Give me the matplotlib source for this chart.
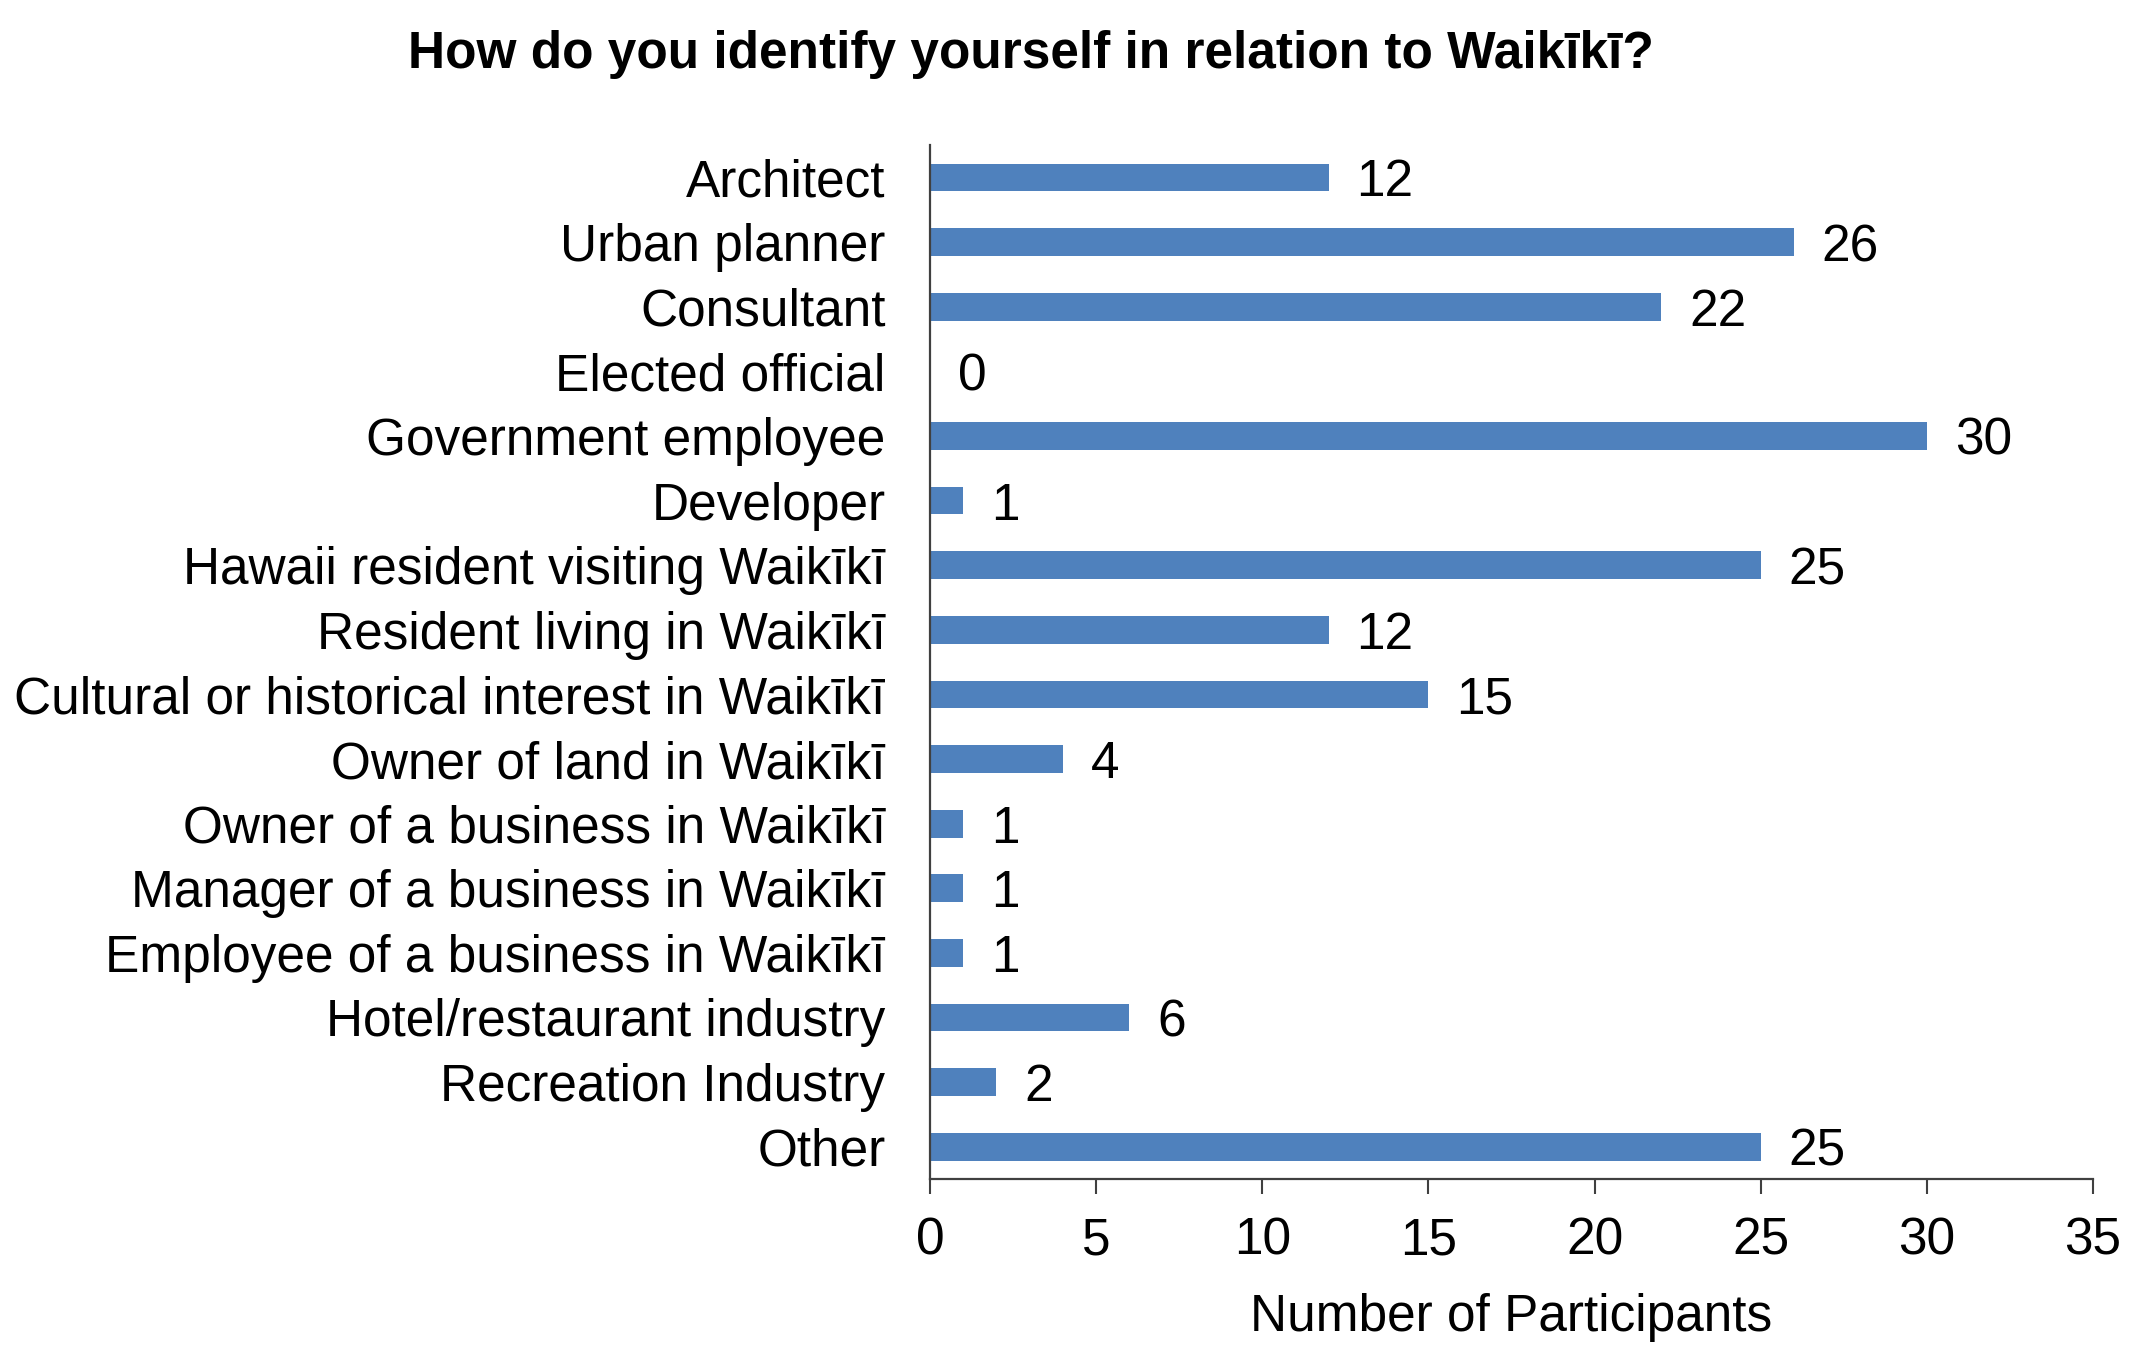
import matplotlib.pyplot as plt
import numpy as np

plt.rcParams['font.family'] = ['Liberation Sans', 'DejaVu Sans']

# DATA
categories = ['Architect', 'Urban planner', 'Consultant', 'Elected official',
              'Government employee', 'Developer',
              'Hawaii resident visiting Waikīkī', 'Resident living in Waikīkī',
              'Cultural or historical interest in Waikīkī',
              'Owner of land in Waikīkī', 'Owner of a business in Waikīkī',
              'Manager of a business in Waikīkī',
              'Employee of a business in Waikīkī', 'Hotel/restaurant industry',
              'Recreation Industry', 'Other']
counts = [12, 26, 22, 0, 30, 1, 25, 12, 15, 4, 1, 1, 1, 6, 2, 25]
xticks = [0, 5, 10, 15, 20, 25, 30, 35]

fig = plt.figure(figsize=(21.38, 13.64), dpi=100)
ax = fig.add_axes([0.435, 0.1356, 0.544, 0.758])

y = np.arange(len(categories))
bars = ax.barh(y, counts, height=0.43, color='#4F81BD')
labels = ax.bar_label(bars, labels=[str(c) for c in counts], padding=20,
                      fontsize=37)
for t in labels:
    # nudge value labels slightly down like the original
    t.set_y(t.get_position()[1])
    t.set_va('center_baseline')

ax.set_ylim(len(categories) - 0.5, -0.5)
ax.set_yticks(y)
ax.set_yticklabels(categories, fontsize=37)
ax.tick_params(axis='y', length=0, pad=32)

ax.set_xlim(0, 35)
ax.set_xticks(xticks)
ax.tick_params(axis='x', labelsize=37, length=11, width=1.5, pad=16,
               color='#404040', direction='out')
ax.set_xlabel('Number of Participants', fontsize=37, labelpad=20)

for s in ['top', 'right']:
    ax.spines[s].set_visible(False)
for s in ['left', 'bottom']:
    ax.spines[s].set_linewidth(1.6)
    ax.spines[s].set_color('#404040')

fig.suptitle('How do you identify yourself in relation to Waikīkī?',
             fontsize=37, fontweight='bold', x=0.482, y=0.96, va='center')

fig.savefig('out.png', dpi=100, facecolor='white')
